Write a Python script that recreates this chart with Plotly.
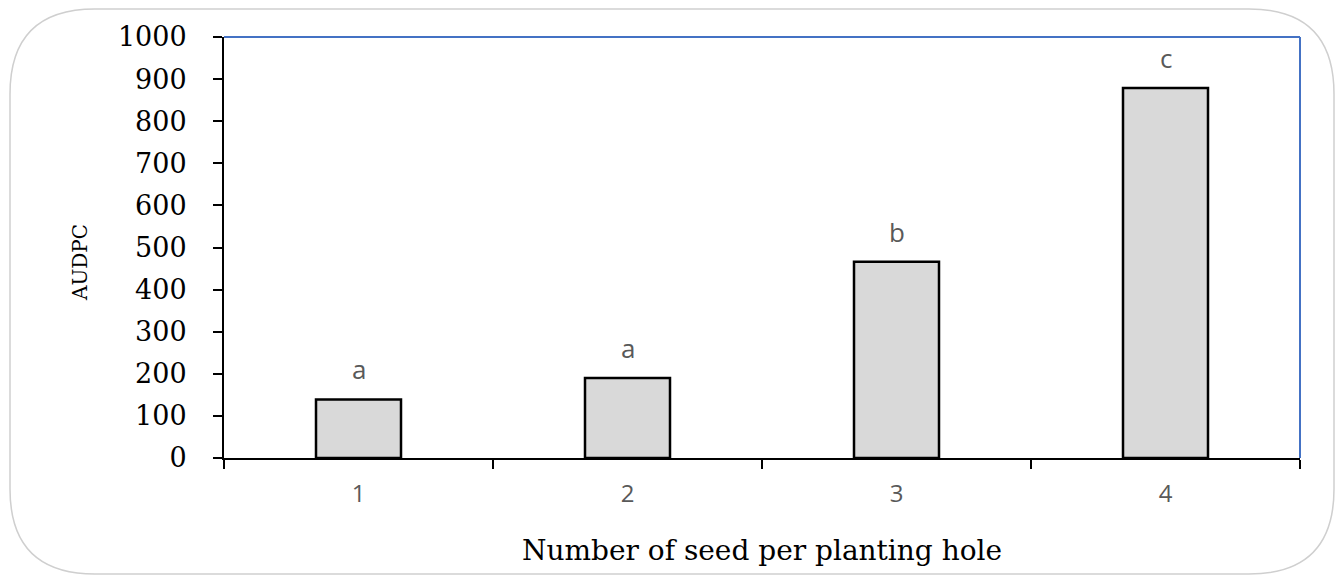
import plotly.graph_objects as go

categories = ["1", "2", "3", "4"]
audpc = [139, 190, 466, 879]
letters = ["a", "a", "b", "c"]

# page body has an 8px margin; figure sized to fit inside the window
OFF = 8
W, H = 1328, 567
L = 224 - OFF
T = 37 - OFF
R = (OFF + W) - 1300
B = (OFF + H) - 458
pw, ph = W - L - R, H - T - B

fig = go.Figure()
fig.add_trace(go.Bar(
    x=categories, y=audpc, width=0.316,
    marker=dict(color="#d9d9d9", line=dict(color="black", width=2.5)),
))

for i, (v, t) in enumerate(zip(audpc, letters)):
    fig.add_annotation(x=i, y=v, text=t, showarrow=False, yshift=30,
                       font=dict(family="Open Sans", size=26, color="#595959"))

# blue top/right frame
fig.add_shape(type="line", xref="x domain", yref="y domain", x0=0, x1=1, y0=1, y1=1,
              line=dict(color="#4472c4", width=2))
fig.add_shape(type="line", xref="x domain", yref="y domain", x0=1, x1=1, y0=0, y1=1,
              line=dict(color="#4472c4", width=2))

# rounded outer border (coordinates in page pixels converted to paper)
def px(x):
    return (x - OFF - L) / pw
def py(y):
    return (OFF + H - B - y) / ph
x0, x1, y0, y1, r = 10, 1334, 9, 574, 85
path = (f"M {px(x0+r)},{py(y0)} L {px(x1-r)},{py(y0)} Q {px(x1)},{py(y0)} {px(x1)},{py(y0+r)} "
        f"L {px(x1)},{py(y1-r)} Q {px(x1)},{py(y1)} {px(x1-r)},{py(y1)} "
        f"L {px(x0+r)},{py(y1)} Q {px(x0)},{py(y1)} {px(x0)},{py(y1-r)} "
        f"L {px(x0)},{py(y0+r)} Q {px(x0)},{py(y0)} {px(x0+r)},{py(y0)} Z")
fig.add_shape(type="path", xref="paper", yref="paper", path=path,
              line=dict(color="#cfcfcf", width=1.5), layer="below")

# y-axis title placed as rotated text
fig.add_annotation(text="AUDPC", textangle=-90, showarrow=False,
                   xref="paper", yref="paper", x=px(80), y=py(263),
                   xanchor="center", yanchor="middle",
                   font=dict(family="DejaVu Serif", size=20, color="black"))

fig.update_layout(
    width=W, height=H,
    margin=dict(l=L, r=R, t=T, b=B, autoexpand=False),
    paper_bgcolor="white", plot_bgcolor="white",
    showlegend=False,
    xaxis=dict(
        type="category", tickson="boundaries",
        showline=True, linecolor="black", linewidth=2,
        ticks="outside", ticklen=9, tickwidth=2, tickcolor="black",
        ticklabelstandoff=13,
        tickfont=dict(family="Open Sans", size=24, color="#595959"),
        title=dict(text="Number of seed per planting hole", standoff=33,
                   font=dict(family="DejaVu Serif", size=28, color="black")),
        showgrid=False, zeroline=False,
    ),
    yaxis=dict(
        range=[0, 1000], dtick=100,
        showline=True, linecolor="black", linewidth=2,
        ticks="outside", ticklen=9, tickwidth=2, tickcolor="black",
        ticklabelstandoff=21,
        tickfont=dict(family="DejaVu Serif", size=27, color="black"),
        showgrid=False, zeroline=False,
    ),
)

fig.write_html("out.html")
